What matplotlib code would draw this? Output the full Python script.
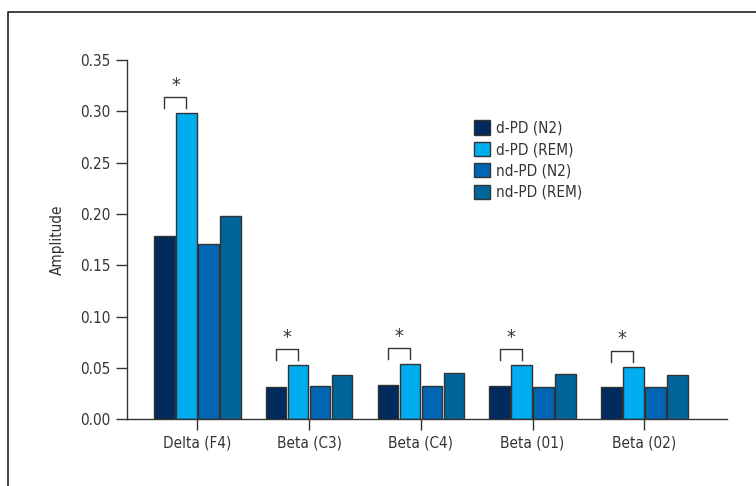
import numpy as np
import matplotlib
matplotlib.use("Agg")
import matplotlib.pyplot as plt
from matplotlib.lines import Line2D
from matplotlib.patches import Patch

plt.rcParams["font.family"] = ["DejaVu Sans"]
plt.rcParams["font.stretch"] = "condensed"

groups = ["Delta (F4)", "Beta (C3)", "Beta (C4)", "Beta (01)", "Beta (02)"]
series = ["d-PD (N2)", "d-PD (REM)", "nd-PD (N2)", "nd-PD (REM)"]
d_pd_n2 = [0.179, 0.031, 0.033, 0.0325, 0.031]
d_pd_rem = [0.298, 0.0526, 0.0539, 0.0529, 0.051]
nd_pd_n2 = [0.171, 0.0322, 0.0328, 0.0312, 0.0312]
nd_pd_rem = [0.198, 0.0429, 0.0454, 0.0438, 0.0435]
yticks = [0.00, 0.05, 0.10, 0.15, 0.20, 0.25, 0.30, 0.35]

colors = ["#002b5c", "#00aeef", "#0066b3", "#006699"]
values = [d_pd_n2, d_pd_rem, nd_pd_n2, nd_pd_rem]

fig = plt.figure(figsize=(7.56, 4.86), dpi=100)
ax = fig.add_axes([0.168, 0.1372, 0.7936, 0.7393])

x = np.arange(len(groups))
step, width = 0.197, 0.184
for i, (vals, c) in enumerate(zip(values, colors)):
    ax.bar(x + (i - 1.5) * step, vals, width, color=c,
           edgecolor="#333333", linewidth=1.0, label=series[i])

# significance brackets between d-PD (N2) and d-PD (REM)
for j in range(len(groups)):
    x0 = x[j] - 1.5 * step
    x1 = x[j] - 0.5 * step
    top = max(d_pd_n2[j], d_pd_rem[j]) + 0.016
    ax.plot([x0, x0, x1, x1], [top - 0.011, top, top, top - 0.011],
            color="#333333", lw=1.0, clip_on=False)
    ax.text((x0 + x1) / 2, top + 0.002, "*", ha="center", va="bottom",
            fontsize=14, color="#333333")

ax.set_xlim(-0.63, 4.74)
ax.set_ylim(0, 0.35)
ax.set_xticks(x)
ax.set_xticklabels(groups, fontsize=11, color="#333333")
ax.set_yticks(yticks)
ax.set_yticklabels([f"{t:.2f}" for t in yticks], fontsize=11, color="#333333")
ax.set_ylabel("Amplitude", fontsize=11, color="#333333", labelpad=11)

for side in ("top", "right"):
    ax.spines[side].set_visible(False)
for side in ("left", "bottom"):
    ax.spines[side].set_color("#333333")
    ax.spines[side].set_linewidth(1.0)
ax.tick_params(axis="both", direction="out", length=8, width=1.0,
               color="#333333", pad=4)

handles = [Patch(facecolor=c, edgecolor="#333333", linewidth=1.0)
           for c in colors]
fig.legend(handles, series, loc="upper left", bbox_to_anchor=(0.617, 0.768),
           frameon=False, fontsize=11, handlelength=1.05, handleheight=1.05,
           handletextpad=0.4, labelspacing=0.4, borderpad=0,
           labelcolor="#333333")

# outer frame (top and left edges)
fig.add_artist(Line2D([8 / 756, 8 / 756, 1.0], [0.0, 1 - 12 / 486, 1 - 12 / 486],
                      transform=fig.transFigure, color="#222222", lw=1.2))

fig.savefig("out.png", dpi=100)
